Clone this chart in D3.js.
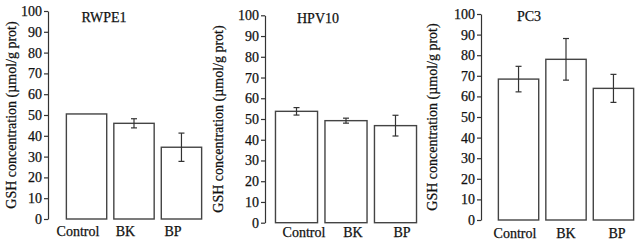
<!DOCTYPE html>
<html>
<head>
<meta charset="utf-8">
<script src="https://cdn.jsdelivr.net/npm/d3@7"></script>
<style>
  body { margin: 0; background: #fff; }
  svg { display: block; }
  text { font-family: "Liberation Serif", "DejaVu Serif", serif; fill: #111; stroke: #111; stroke-width: 0.25; }
</style>
</head>
<body>
<svg id="chart" width="640" height="246"></svg>
<script>
// data (GSH, umol/g prot)
const categories = ["Control", "BK", "BP"];
const panelNames = ["RWPE1", "HPV10", "PC3"];
const meanValues = [
    [50.5, 46.0, 34.5],
    [53.7, 49.2, 46.8],
    [68.4, 78.0, 63.9]
];
const errValues = [
    [0, 2.2, 6.8],
    [1.8, 1.2, 5.0],
    [6.2, 10.1, 6.8]
];
const yTicks = [0, 10, 20, 30, 40, 50, 60, 70, 80, 90, 100];
const yLabel = "GSH concentration (\u00b5mol/g prot)";

// layout of the three panels
const panels = [
    { axisX: 48, yBottom: 219, yTop: 11, barRange: [64, 204], catRange: [78, 173], labelX: 16, titleX: 104, titleY: 22, catY: 236 },
    { axisX: 265, yBottom: 222.7, yTop: 15.3, barRange: [273, 419], catRange: [304, 402], labelX: 223, titleX: 318, titleY: 23, catY: 237 },
    { axisX: 481, yBottom: 220, yTop: 14, barRange: [496, 636], catRange: [515, 617], labelX: 437, titleX: 529, titleY: 21, catY: 238 }
];

const svg = d3.select("#chart");

panels.forEach((p, i) => {
    let g = svg.append("g");

    let y = d3.scaleLinear().domain([0, 100]).range([p.yBottom, p.yTop]);
    let x = d3.scaleBand().domain(categories).range(p.barRange)
        .paddingInner(0.15).paddingOuter(0.05);
    let xl = d3.scalePoint().domain(categories).range(p.catRange);

    // y axis
    let axis = d3.axisLeft(y).tickValues(yTicks).tickSize(4).tickPadding(2).tickSizeOuter(0);
    let ag = g.append("g")
        .attr("transform", "translate(" + p.axisX + ",0)")
        .call(axis);
    ag.select(".domain").attr("stroke", "#333").attr("stroke-width", 1.2);
    ag.selectAll(".tick line").attr("stroke", "#333").attr("stroke-width", 1.2);
    ag.selectAll(".tick text")
        .attr("font-size", 14)
        .attr("font-family", "Liberation Serif, serif");

    let rows = categories.map((c, j) => ({ cat: c, v: meanValues[i][j], e: errValues[i][j] }));

    // bars
    g.selectAll("rect.bar").data(rows).enter().append("rect")
        .attr("class", "bar")
        .attr("x", d => x(d.cat))
        .attr("y", d => y(d.v))
        .attr("width", x.bandwidth())
        .attr("height", d => y(0) - y(d.v))
        .attr("fill", "#fff")
        .attr("stroke", "#444")
        .attr("stroke-width", 1.4);

    // error bars
    let eb = g.selectAll("g.err").data(rows.filter(d => d.e > 0)).enter().append("g")
        .attr("class", "err")
        .attr("stroke", "#333")
        .attr("stroke-width", 1.2);
    eb.append("line")
        .attr("x1", d => x(d.cat) + x.bandwidth() / 2)
        .attr("x2", d => x(d.cat) + x.bandwidth() / 2)
        .attr("y1", d => y(d.v + d.e))
        .attr("y2", d => y(d.v - d.e));
    [1, -1].forEach(s => {
        eb.append("line")
            .attr("x1", d => x(d.cat) + x.bandwidth() / 2 - 3)
            .attr("x2", d => x(d.cat) + x.bandwidth() / 2 + 3)
            .attr("y1", d => y(d.v + s * d.e))
            .attr("y2", d => y(d.v + s * d.e));
    });

    // category labels
    g.selectAll("text.cat").data(categories).enter().append("text")
        .attr("class", "cat")
        .attr("x", d => xl(d))
        .attr("y", p.catY)
        .attr("text-anchor", "middle")
        .attr("font-size", 14)
        .text(d => d);

    // panel title
    g.append("text")
        .attr("x", p.titleX)
        .attr("y", p.titleY)
        .attr("text-anchor", "middle")
        .attr("font-size", 14)
        .text(panelNames[i]);

    // y label
    g.append("text")
        .attr("transform", "translate(" + p.labelX + "," + ((p.yTop + p.yBottom) / 2) + ") rotate(-90)")
        .attr("text-anchor", "middle")
        .attr("font-size", 14)
        .text(yLabel);
});
</script>
</body>
</html>
